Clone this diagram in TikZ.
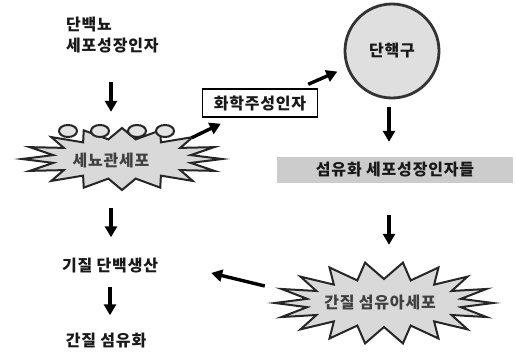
\documentclass[tikz,border=0pt]{standalone}
\usepackage{fontspec}
\newfontfamily\kr[LetterSpace=5]{Noto Sans CJK KR}
\usetikzlibrary{arrows.meta,calc}
\newcommand\mkburst[8]{% cx cy Rx Ry rx ry N lastindex
  \draw[burst] plot[samples at={0,...,#8}, variable=\k]
    ({#1 + ifthenelse(isodd(\k),#5,#3)*cos(\k*180/#7)},
     {#2 + ifthenelse(isodd(\k),#6,#4)*sin(\k*180/#7)}) -- cycle;}
\begin{document}
\begin{tikzpicture}[x=1pt,y=-1pt,
  lbl/.style={font=\kr\bfseries\fontsize{16}{21}\selectfont, text=black!90, inner sep=0pt},
  arr/.style={line width=3.4pt, -{Triangle[length=11pt,width=12pt]}},
  burst/.style={fill=gray!30, draw=black!85, line width=2pt, line join=miter},
  bump/.style={fill=gray!22, draw=black!85, line width=2pt},
]
\useasboundingbox[fill=white] (0,0) rectangle (516,353);

% starbursts
\mkburst{122}{159}{100}{31}{70}{20}{16}{31}
\foreach \bx in {68,100,137,165}
  \draw[bump] (\bx,131) ellipse [x radius=9pt, y radius=6pt];
\mkburst{384}{303}{109}{41}{78}{24}{18}{35}

% nodes
\node[lbl, align=left, anchor=north west] (gf) at (66,17) {단백뇨\\세포성장인자};
\node[lbl, text=black!75, minimum width=150pt, minimum height=96pt] (tub) at (111,160) {세뇨관세포};
\node[lbl, draw, line width=1.4pt, fill=white, minimum width=115pt, minimum height=28pt] (chem) at (260,103) {화학주성인자};
\node[lbl, circle, draw=black!80, fill=gray!25, line width=2.8pt, minimum size=94pt] (mono) at (392,51) {단핵구};
\node[lbl, fill=gray!40, minimum width=236pt, minimum height=26pt] (fgf) at (395,170) {섬유화 세포성장인자들};
\node[lbl, text=black!75, minimum width=160pt, minimum height=84pt] (fib) at (380,303) {간질 섬유아세포};
\node[lbl] (mat) at (110,266) {기질 단백생산};
\node[lbl] (fibz) at (106,341) {간질 섬유화};

% connectors
\draw[arr, shorten <=29pt] (tub.north |- gf.south) -- (tub.north);
\draw[arr] ($(chem.south west)+(-10,20)$) -- ($(chem.south west)+(19,6)$);
\draw[arr, shorten >=10pt] ($(chem.north east)+(-10,-4)$) -- (mono.200);
\draw[arr, shorten <=7.6pt, shorten >=15pt] ([xshift=-3pt]mono.south) -- ([xshift=-3pt]mono.south |- fgf.north);
\draw[arr, shorten <=32pt, shorten >=16pt] ([xshift=9pt]fib.north |- fgf.south) -- ([xshift=9pt]fib.north);
\draw[arr] ($(fib.west)+(-35,-17)$) -- ($(mat.east)+(53,7)$);
\draw[arr, shorten >=21pt] (tub.south) -- (tub.south |- mat.north);
\draw[arr, shorten <=13pt, shorten >=18pt] (mat.south) -- (mat.south |- fibz.north);
\end{tikzpicture}
\end{document}
